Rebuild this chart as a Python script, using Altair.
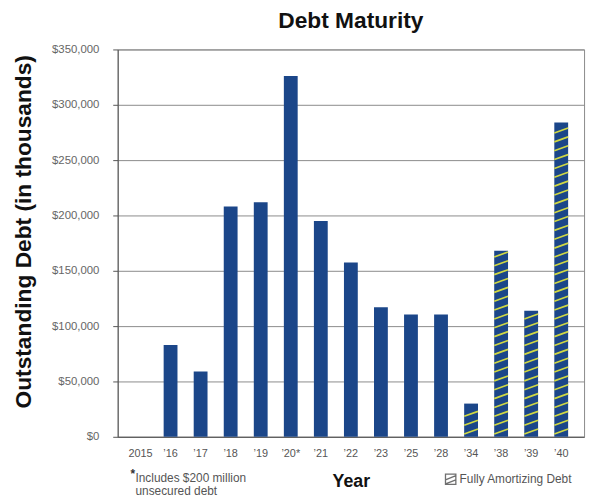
import altair as alt
import numpy as np
import pandas as pd

# ---- data ----
years = ["2015", "’16", "’17", "’18", "’19", "’20*", "’21", "’22", "’23",
         "’25", "’28", "’34", "’38", "’39", "’40"]
debt = [0, 83000, 59000, 208000, 212000, 326000, 195000, 157500, 117000,
        110500, 110500, 30000, 168000, 114000, 284000]
kind = ["Other Debt"] * 11 + ["Fully Amortizing Debt"] * 4
y_ticks = [0, 50000, 100000, 150000, 200000, 250000, 300000, 350000]
footnote = "Includes $200 million\nunsecured debt"

# ---- styles ----
F = "Liberation Sans"
BLUE = "#1b4689"
YELLOW = "#d0d843"
STRIPE_GAP = 8000     # vertical spacing of hatch lines (data units)
STRIPE_RISE = 4500    # rise of a hatch line across the bar (data units)
HATCH_ICON = "M-1,-1H1V1H-1Z M-1,0.1L1,-0.7 M-1,0.9L1,0.1"

df = pd.DataFrame({"year": years, "debt": debt, "kind": kind})
amort = df[df["kind"] == "Fully Amortizing Debt"]

# hatch lines for the fully amortizing bars
rows = []
for y, v in zip(amort["year"], amort["debt"]):
    for y0 in np.arange(2500, v - STRIPE_RISE + 1, STRIPE_GAP):
        rows.append({"year": y, "y0": float(y0), "y1": float(y0 + STRIPE_RISE)})
stripes = pd.DataFrame(rows)

x_scale = alt.Scale(paddingInner=0.54, paddingOuter=0.53)
y_scale = alt.Scale(domain=[0, 350000], nice=False)

bars = alt.Chart(df).mark_bar(color=BLUE).encode(
    x=alt.X("year:N", sort=years, scale=x_scale,
            axis=alt.Axis(title="Year", labelAngle=0, ticks=False, tickSize=0,
                          labelPadding=11, labelFont=F, labelFontSize=11,
                          labelColor="#555", domainColor="#555",
                          titleFont=F, titleFontSize=18, titleFontWeight="bold",
                          titleColor="#111", titleY=45, titleBaseline="middle",
                          grid=False)),
    y=alt.Y("debt:Q", scale=y_scale,
            axis=alt.Axis(values=y_ticks, format="$,.0f", labelFont=F,
                          labelFontSize=11.5, labelColor="#666", tickSize=5,
                          tickColor="#555", labelPadding=14, domainColor="#555",
                          grid=True, gridColor="#8a8a8a",
                          title="Outstanding Debt (in thousands)",
                          titleFont=F, titleFontSize=23, titleFontWeight="bold",
                          titleColor="#111", titleX=-95, titleY=184,
                          titleAngle=270, titleAlign="center",
                          titleBaseline="middle")),
)

hatch = alt.Chart(stripes).mark_rule(strokeWidth=1.7, color=YELLOW).encode(
    x=alt.X("year:N", sort=years, bandPosition=0),
    x2=alt.X2("year", bandPosition=1),
    y=alt.Y("y0:Q"),
    y2=alt.Y2("y1"),
)

# invisible points that carry the legend entry
legend_src = alt.Chart(amort).mark_point(size=0, filled=False, color="#333").encode(
    x=alt.X("year:N", sort=years),
    y=alt.Y("debt:Q"),
    shape=alt.Shape("kind:N",
                    scale=alt.Scale(domain=["Fully Amortizing Debt"], range=[HATCH_ICON]),
                    legend=alt.Legend(
                        title=None, orient="none", legendX=331, legendY=429,
                        symbolSize=110, symbolStrokeWidth=1.3,
                        symbolStrokeColor="#333",
                        labelFont=F, labelFontSize=12, labelColor="#555",
                        labelOffset=3, padding=0)),
)

note_star = alt.Chart(pd.DataFrame({"t": ["*"]})).mark_text(
    align="left", baseline="alphabetic", font=F, fontSize=12,
    fontWeight="bold", color="#333"
).encode(text="t:N", x=alt.value(13), y=alt.value(434))

note = alt.Chart(pd.DataFrame({"t": [footnote]})).mark_text(
    align="left", baseline="alphabetic", font=F, fontSize=12, color="#555",
    lineBreak="\n", lineHeight=13
).encode(text="t:N", x=alt.value(18), y=alt.value(438))

chart = alt.layer(bars, hatch, legend_src, note_star, note).properties(
    width=472, height=392,
    title=alt.TitleParams("Debt Maturity", font=F, fontSize=23,
                          fontWeight="bold", color="#111", anchor="middle",
                          offset=11),
    autosize=alt.AutoSizeParams(type="none"),
    padding={"left": 111, "top": 39, "right": 5, "bottom": 60},
).configure_view(stroke="#8a8a8a", strokeWidth=1)

chart.save("out.html", embed_options={"renderer": "svg", "actions": False})
